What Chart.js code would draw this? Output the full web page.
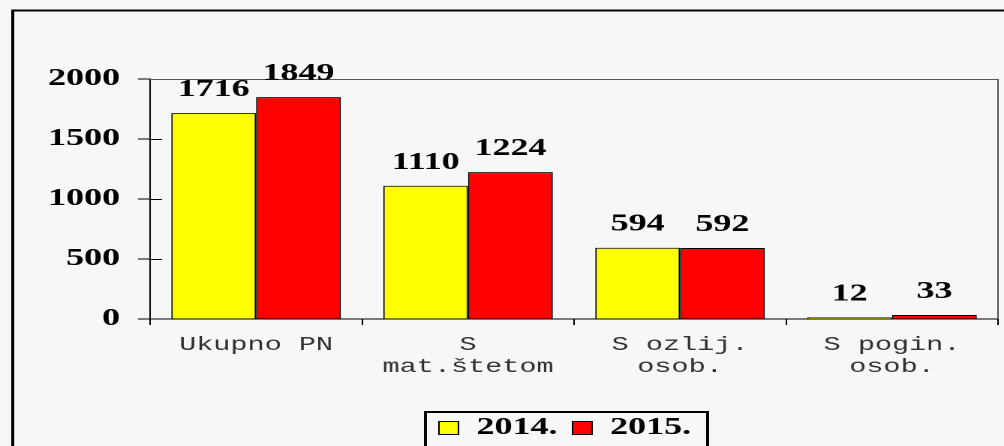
<!DOCTYPE html>
<html>
<head>
<meta charset="utf-8">
<script src="https://cdn.jsdelivr.net/npm/chart.js@4/dist/chart.umd.min.js"></script>
<style>
  html, body { margin: 0; padding: 0; background: #f7f7f7; }
  #wrap { width: 1004px; height: 446px; overflow: hidden; }
  canvas { display: block; }
</style>
</head>
<body>
<div id="wrap"><canvas id="c" width="669" height="446" style="width:1004px;height:446px"></canvas></div>
<script>
const categories = [['Ukupno PN'], ['S', 'mat.štetom'], ['S ozlij.', 'osob.'], ['S pogin.', 'osob.']];
const seriesNames = ['2014.', '2015.'];
const values2014 = [1716, 1110, 594, 12];
const values2015 = [1849, 1224, 592, 33];
const yTicks = [0, 500, 1000, 1500, 2000];

const SERIF = '"Liberation Serif", "Times New Roman", serif';
const MONO = '"Liberation Mono", "Courier New", monospace';

const framePlugin = {
  id: 'frame',
  afterLayout(chart) {
    const lg = chart.legend;
    if (lg) { lg.left -= 6; lg.right -= 6; }
  },
  beforeDraw(chart) {
    const ctx = chart.ctx;
    ctx.save();
    ctx.fillStyle = '#f7f7f7';
    ctx.fillRect(0, 0, chart.width, chart.height);
    ctx.restore();
  },
  afterDatasetsDraw(chart) {
    const ctx = chart.ctx;
    const a = chart.chartArea;
    const y = chart.scales.y;
    ctx.save();
    ctx.strokeStyle = '#555';
    ctx.lineWidth = 1;
    ctx.beginPath();
    ctx.moveTo(a.left, a.top + 0.5);
    ctx.lineTo(a.right, a.top + 0.5);
    ctx.lineTo(a.right, a.bottom);
    ctx.stroke();
    ctx.strokeStyle = '#000';
    ctx.beginPath();
    yTicks.forEach(v => {
      if (v === 0 || v === 2000) return;
      const py = Math.round(y.getPixelForValue(v)) + 0.5;
      ctx.moveTo(a.left, py);
      ctx.lineTo(a.left + 8, py);
    });
    ctx.stroke();
    ctx.fillStyle = '#000';
    ctx.font = 'bold 24px ' + SERIF;
    ctx.textAlign = 'center';
    ctx.textBaseline = 'alphabetic';
    chart.data.datasets.forEach((ds, di) => {
      const meta = chart.getDatasetMeta(di);
      meta.data.forEach((bar, i) => {
        ctx.fillText(String(ds.data[i]), bar.x, bar.y - 17);
      });
    });
    ctx.restore();
  },
  afterDraw(chart) {
    const ctx = chart.ctx;
    ctx.save();
    ctx.strokeStyle = '#000';
    ctx.lineWidth = 2;
    ctx.beginPath();
    ctx.moveTo(8.5, 460);
    ctx.lineTo(8.5, 10.5);
    ctx.lineTo(chart.width + 5, 10.5);
    ctx.stroke();
    const lg = chart.legend;
    if (lg && lg.legendHitBoxes && lg.legendHitBoxes.length) {
      const hb = lg.legendHitBoxes;
      const first = hb[0], last = hb[hb.length - 1];
      const cy = first.top + first.height / 2;
      ctx.beginPath();
      ctx.rect(first.left - 9, cy - 16, (last.left + last.width + 11) - (first.left - 9), 60);
      ctx.stroke();
    }
    ctx.restore();
  }
};

new Chart(document.getElementById('c'), {
  type: 'bar',
  data: {
    labels: categories,
    datasets: [
      { label: seriesNames[0], data: values2014, backgroundColor: '#ffff00', borderColor: '#000', borderWidth: 1, categoryPercentage: 0.8, barPercentage: 1.0 },
      { label: seriesNames[1], data: values2015, backgroundColor: '#ff0000', borderColor: '#000', borderWidth: 1, categoryPercentage: 0.8, barPercentage: 1.0 }
    ]
  },
  options: {
    responsive: false,
    devicePixelRatio: 2,
    animation: false,
    events: [],
    layout: { padding: { top: 79, right: 4, left: 0, bottom: -4 } },
    plugins: {
      legend: {
        position: 'bottom',
        fullSize: false,
        labels: {
          boxWidth: 13,
          boxHeight: 13,
          padding: 10,
          color: '#000',
          font: { family: SERIF, size: 24, weight: 'bold' }
        }
      },
      tooltip: { enabled: false },
      title: { display: false }
    },
    scales: {
      x: {
        type: 'category',
        offset: true,
        afterFit(s) { s.height = 87; },
        grid: { offset: true, drawOnChartArea: false, drawTicks: true, tickLength: 6, color: '#000', lineWidth: 1 },
        border: { display: true, color: '#000', width: 1 },
        ticks: {
          color: '#333',
          padding: 9,
          maxRotation: 0,
          autoSkip: false,
          font: { family: MONO, size: 19, lineHeight: 1.16 }
        }
      },
      y: {
        min: 0,
        max: 2000,
        afterFit(s) { s.width = 100; },
        grid: { drawOnChartArea: false, drawTicks: true, tickLength: 8, color: '#000', lineWidth: 1 },
        border: { display: true, color: '#000', width: 1 },
        ticks: {
          stepSize: 500,
          padding: 12,
          color: '#000',
          callback: (v) => String(v),
          font: { family: SERIF, size: 24, weight: 'bold' }
        }
      }
    }
  },
  plugins: [framePlugin]
});
</script>
</body>
</html>
